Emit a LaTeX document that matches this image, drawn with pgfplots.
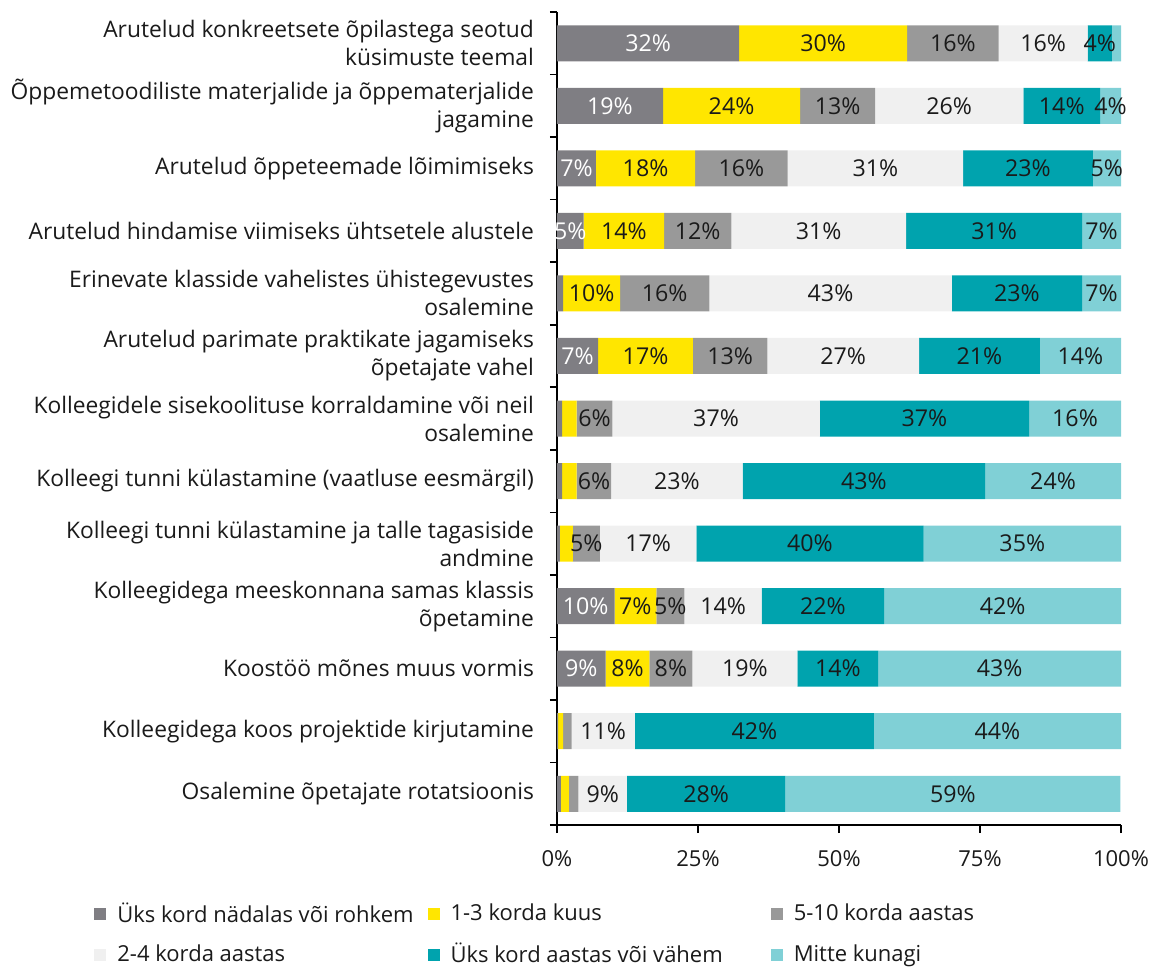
\documentclass[border=0pt]{standalone}
\usepackage{pgfplots}
\pgfplotsset{compat=1.18}
\usepackage{pgfplotstable}
\usepackage{fontspec}
\setmainfont{Open Sans}
\definecolor{c1}{HTML}{7F7E83}
\definecolor{c2}{HTML}{FFE600}
\definecolor{c3}{HTML}{999999}
\definecolor{c4}{HTML}{F0F0F0}
\definecolor{c5}{HTML}{00A3AE}
\definecolor{c6}{HTML}{80D0D6}
\definecolor{txt}{HTML}{1A1A1A}

\pgfplotstableread{
y  a     b     c     d     e     f
0  32.3  29.8  16.2  15.8  4.3   1.6
1  18.8  24.3  13.3  26.3  13.6  3.7
2  6.9   17.6  16.4  31.1  23.0  5.0
3  4.7   14.3  11.9  31.0  31.2  6.9
4  1.1   10.1  15.8  43.0  23.1  6.9
5  7.3   16.8  13.2  26.9  21.4  14.4
6  0.9   2.6   6.3   36.8  37.1  16.3
7  0.9   2.6   6.1   23.3  43.0  24.1
8  0.5   2.3   4.8   17.1  40.3  35.0
9  10.2  7.4   5.0   13.7  21.7  42.0
10 8.6   7.8   7.6   18.6  14.4  43.0
11 0.2   0.9   1.5   11.2  42.4  43.8
12 0.7   1.4   1.7   8.6   28.1  59.4
}\datatable
% label positions: middle of each stacked segment
\pgfplotstablecreatecol[create col/expr={\thisrow{a}/2}]{ma}\datatable
\pgfplotstablecreatecol[create col/expr={\thisrow{a}+\thisrow{b}/2}]{mb}\datatable
\pgfplotstablecreatecol[create col/expr={\thisrow{a}+\thisrow{b}+\thisrow{c}/2}]{mc}\datatable
\pgfplotstablecreatecol[create col/expr={\thisrow{a}+\thisrow{b}+\thisrow{c}+\thisrow{d}/2}]{md}\datatable
\pgfplotstablecreatecol[create col/expr={\thisrow{a}+\thisrow{b}+\thisrow{c}+\thisrow{d}+\thisrow{e}/2}]{me}\datatable
\pgfplotstablecreatecol[create col/expr={\thisrow{a}+\thisrow{b}+\thisrow{c}+\thisrow{d}+\thisrow{e}+\thisrow{f}/2}]{mf}\datatable

\pgfplotsset{
  common/.style={
    scale only axis,
    width=282pt, height=406.5pt,
    xmin=0, xmax=100,
    ymin=-0.5, ymax=12.5,
    y dir=reverse,
  },
  lab/.style={
    only marks, mark=none,
    point meta=explicit,
    visualization depends on={\thisrow{#1} \as \rv},
    nodes near coords={\ifdim\rv pt<3.5pt\else\pgfmathprintnumber[fixed,precision=0]{\rv}\%\fi},
    nodes near coords align={anchor=center},
    every node near coord/.append style={anchor=center, inner sep=0pt, font=\fontsize{11.6}{13}\selectfont, text=txt},
  },
}

\begin{document}
\begin{tikzpicture}
\begin{axis}[
  common,
  name=ax,
  xbar stacked,
  bar width=18pt,
  axis lines*=left,
  axis line style={black, line width=0.8pt},
  tick style={black, line width=0.8pt},
  tick align=outside,
  /pgf/number format/assume math mode=true,
  xtick={0,25,50,75,100},
  xticklabel={\pgfmathprintnumber{\tick}\%},
  xticklabel style={yshift=-5pt},
  major tick length=4pt,
  ytick={0,...,12},
  major y tick style={draw=none},
  minor ytick={-0.5,0.5,...,12.5},
  minor tick length=3.5pt,
  ticklabel style={font=\fontsize{11}{14}\selectfont, text=txt},
  yticklabel style={align=right, font=\fontsize{11.4}{14}\selectfont, xshift=-4pt},
  yticklabels={
    {Arutelud konkreetsete õpilastega seotud\\küsimuste teemal},
    {Õppemetoodiliste materjalide ja õppematerjalide\\jagamine},
    {Arutelud õppeteemade lõimimiseks},
    {Arutelud hindamise viimiseks ühtsetele alustele},
    {Erinevate klasside vahelistes ühistegevustes\\osalemine},
    {Arutelud parimate praktikate jagamiseks\\õpetajate vahel},
    {Kolleegidele sisekoolituse korraldamine või neil\\osalemine},
    {Kolleegi tunni külastamine (vaatluse eesmärgil)},
    {Kolleegi tunni külastamine ja talle tagasiside\\andmine},
    {Kolleegidega meeskonnana samas klassis\\õpetamine},
    {Koostöö mõnes muus vormis},
    {Kolleegidega koos projektide kirjutamine},
    {Osalemine õpetajate rotatsioonis}
  },
  legend columns=3,
  legend cell align=left,
  legend style={at={(axis description cs:-0.8316,-0.085)}, anchor=north west, draw=none, fill=none,
    font=\fontsize{11}{13}\selectfont, text=txt, row sep=5pt,
    /tikz/every odd column/.append style={column sep=3.5pt},
    /tikz/column 2/.style={column sep=5pt},
    /tikz/column 4/.style={column sep=22pt}},
  legend image code/.code={\fill[#1,draw=none] (0pt,-3pt) rectangle (6pt,3pt);},
]
\addplot[fill=c1, draw=none] table[x=a, y=y] {\datatable};
\addplot[fill=c2, draw=none] table[x=b, y=y] {\datatable};
\addplot[fill=c3, draw=none] table[x=c, y=y] {\datatable};
\addplot[fill=c4, draw=none] table[x=d, y=y] {\datatable};
\addplot[fill=c5, draw=none] table[x=e, y=y] {\datatable};
\addplot[fill=c6, draw=none] table[x=f, y=y] {\datatable};
\legend{Üks kord nädalas või rohkem, 1-3 korda kuus, 5-10 korda aastas, 2-4 korda aastas, Üks kord aastas või vähem, Mitte kunagi}
\end{axis}
\begin{axis}[
  common,
  hide axis,
  clip=false,
  /pgf/number format/assume math mode=true,
]
\addplot[lab=a, every node near coord/.append style={text=white}] table[x=ma, y=y, meta=a] {\datatable};
\addplot[lab=b] table[x=mb, y=y, meta=b] {\datatable};
\addplot[lab=c] table[x=mc, y=y, meta=c] {\datatable};
\addplot[lab=d] table[x=md, y=y, meta=d] {\datatable};
\addplot[lab=e] table[x=me, y=y, meta=e] {\datatable};
\addplot[lab=f] table[x=mf, y=y, meta=f] {\datatable};
\end{axis}
\pgfresetboundingbox
\path[use as bounding box] ([xshift=-278.5pt,yshift=-70.5pt]ax.south west) rectangle ([xshift=17pt,yshift=6pt]ax.north east);
\end{tikzpicture}
\end{document}
